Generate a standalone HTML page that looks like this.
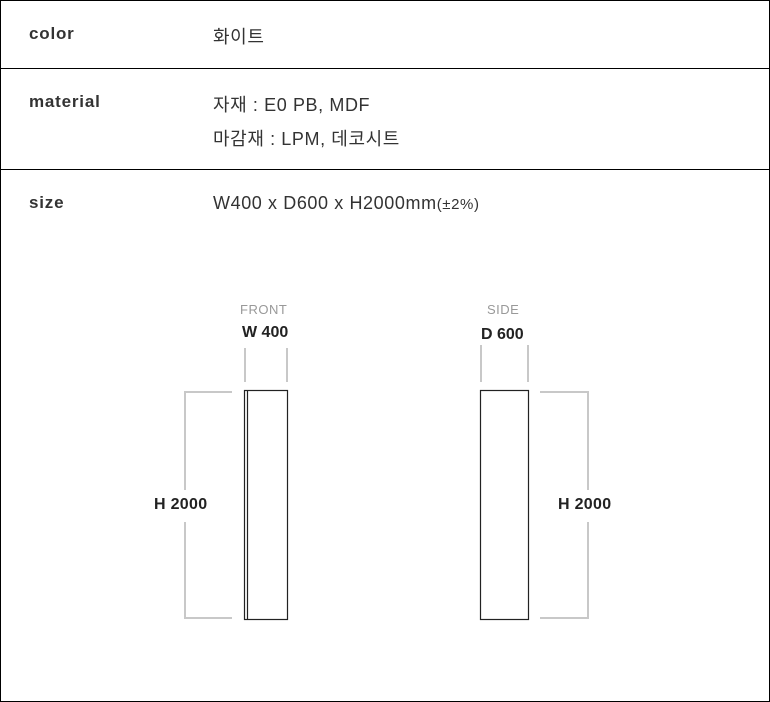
<!DOCTYPE html>
<html><head><meta charset="utf-8"><style>
body{margin:0;background:#fff;}
.wrap{position:relative;width:770px;height:702px;overflow:hidden;font-family:"Liberation Sans","Noto Sans CJK KR",sans-serif;}
.t{position:absolute;white-space:nowrap;color:#222;}
.lab{font-weight:bold;font-size:17px;letter-spacing:0.8px;color:#333;left:29px;}
.val{font-size:18px;left:213px;color:#333;letter-spacing:0.6px;}
</style></head><body><div class="wrap">
<svg width="770" height="702" style="position:absolute;left:0;top:0">
<rect x="0.5" y="0.5" width="769" height="701" fill="none" stroke="#000"/>
<line x1="0" y1="68.5" x2="770" y2="68.5" stroke="#000"/>
<line x1="0" y1="169.5" x2="770" y2="169.5" stroke="#000"/>
<g stroke="#c8c8c8" stroke-width="2" fill="none">
<line x1="245" y1="348" x2="245" y2="382"/><line x1="287" y1="348" x2="287" y2="382"/>
<polyline points="232,392 185,392 185,490"/><polyline points="185,522 185,618 232,618"/>
<line x1="481" y1="345" x2="481" y2="382"/><line x1="528" y1="345" x2="528" y2="382"/>
<polyline points="540,392 588,392 588,490"/><polyline points="588,522 588,618 540,618"/>
</g>
<g stroke="#222" stroke-width="1.2" fill="none">
<rect x="244.5" y="390.5" width="43" height="229"/>
<line x1="247.5" y1="390.5" x2="247.5" y2="619.5"/>
<rect x="480.5" y="390.5" width="48" height="229"/>
</g>
</svg>
<div class="t lab" style="top:24px">color</div>
<div class="t val" style="top:23px">화이트</div>
<div class="t lab" style="top:92px">material</div>
<div class="t val" style="top:91px">자재 : E0 PB, MDF</div>
<div class="t val" style="top:125px">마감재 : LPM, 데코시트</div>
<div class="t lab" style="top:193px">size</div>
<div class="t val" style="top:193px">W400 x D600 x H2000mm<span style="font-size:15px">(±2%)</span></div>
<div class="t" style="top:302px;left:240px;font-size:13px;color:#999;letter-spacing:0.5px">FRONT</div>
<div class="t" style="top:324px;left:242px;font-size:16px;font-weight:bold">W 400</div>
<div class="t" style="top:302px;left:487px;font-size:13px;color:#999;letter-spacing:0.5px">SIDE</div>
<div class="t" style="top:326px;left:481px;font-size:16px;font-weight:bold">D 600</div>
<div class="t" style="top:496px;left:154px;font-size:16px;font-weight:bold;letter-spacing:0.3px">H 2000</div>
<div class="t" style="top:496px;left:558px;font-size:16px;font-weight:bold;letter-spacing:0.3px">H 2000</div>
</div></body></html>
